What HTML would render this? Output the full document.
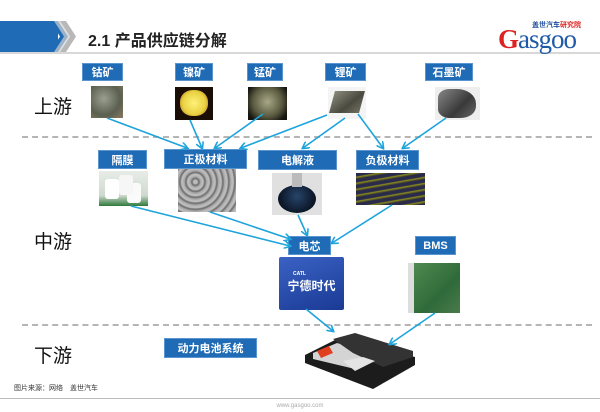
<!DOCTYPE html>
<html><head><meta charset="utf-8"><style>
body{margin:0;width:600px;height:412px;background:#fff;position:relative;overflow:hidden;font-family:"Liberation Sans","Noto Sans CJK SC",sans-serif}
.a{position:absolute}
.lb{position:absolute;background:#1f6bb5;color:#fff;font-size:11px;font-weight:bold;display:flex;align-items:center;justify-content:center;border:1px solid #5a95cf}
.st{position:absolute;font-size:19px;color:#111}
</style></head><body>
<!-- header -->
<div class="a" style="left:0;top:21px;width:58px;height:31px;background:#1f6bb5"></div>
<svg class="a" style="left:50px;top:21px" width="30" height="31"><polygon points="0,0 8,0 18,15.5 8,31 0,31 10,15.5" fill="#1f6bb5"/><polygon points="10,0 16,0 26,15.5 16,31 10,31 20,15.5" fill="#b8b8b8"/><polygon points="4,0 10,0 20,15.5 10,31 4,31 14,15.5" fill="#d0d0d0" opacity="0.7"/></svg>
<div class="a" style="left:88px;top:27px;font-size:16px;font-weight:bold;color:#222">2.1 产品供应链分解</div>
<div class="a" style="left:0;top:52px;width:600px;height:2px;background:#d8d8d8"></div>
<div class="a" style="left:532px;top:20px;font-size:7px;color:#1f4f9a;font-weight:bold">盖世汽车<span style="color:#d22">研究院</span></div>
<div class="a" style="left:498px;top:24px;font-family:'Liberation Serif',serif;font-size:27px;color:#1f5aa8;letter-spacing:-1px"><span style="color:#d22;font-weight:bold">G</span>asgoo</div>

<!-- stage labels -->
<div class="st" style="left:34px;top:92px">上游</div>
<div class="st" style="left:34px;top:227px">中游</div>
<div class="st" style="left:34px;top:341px">下游</div>

<!-- dashed lines -->
<div class="a" style="left:22px;top:136px;width:570px;border-top:2px dashed #b5b5b5"></div>
<div class="a" style="left:22px;top:324px;width:570px;border-top:2px dashed #b5b5b5"></div>

<!-- top labels -->
<div class="lb" style="left:82px;top:63px;width:39px;height:16px">钴矿</div>
<div class="lb" style="left:175px;top:63px;width:36px;height:16px">镍矿</div>
<div class="lb" style="left:247px;top:63px;width:34px;height:16px">锰矿</div>
<div class="lb" style="left:325px;top:63px;width:39px;height:16px">锂矿</div>
<div class="lb" style="left:425px;top:63px;width:46px;height:16px">石墨矿</div>

<!-- ore images -->
<div class="a" style="left:91px;top:86px;width:32px;height:32px;background:radial-gradient(circle at 40% 40%,#9a9f90,#5a5f50 60%,#8a7a60);"></div>
<div class="a" style="left:175px;top:87px;width:38px;height:33px;background:#1a0d05"><div class="a" style="left:5px;top:3px;width:28px;height:26px;border-radius:45%;background:radial-gradient(circle,#fff27a,#e8d040 60%,#a05020)"></div></div>
<div class="a" style="left:248px;top:87px;width:39px;height:33px;background:radial-gradient(circle at 50% 45%,#a8a888,#5a5a40 55%,#141410 85%)"></div>
<div class="a" style="left:328px;top:87px;width:38px;height:32px;background:#f4f4f4"><div class="a" style="left:4px;top:4px;width:30px;height:22px;background:linear-gradient(135deg,#8a8a7a,#4a4a40 60%,#707060);transform:skewX(-15deg)"></div></div>
<div class="a" style="left:435px;top:87px;width:45px;height:33px;background:#eee"><div class="a" style="left:3px;top:2px;width:38px;height:29px;border-radius:30% 50% 40% 30%;background:linear-gradient(135deg,#888,#3a3a3a 60%,#666)"></div></div>

<!-- mid labels -->
<div class="lb" style="left:98px;top:150px;width:47px;height:17px">隔膜</div>
<div class="lb" style="left:164px;top:149px;width:81px;height:18px">正极材料</div>
<div class="lb" style="left:258px;top:150px;width:77px;height:18px">电解液</div>
<div class="lb" style="left:356px;top:150px;width:61px;height:18px">负极材料</div>

<!-- mid images -->
<div class="a" style="left:99px;top:171px;width:49px;height:35px;background:linear-gradient(#e8ece8,#cfd9cf 70%,#2e7a3a)"><div class="a" style="left:6px;top:8px;width:14px;height:20px;background:#fff;border-radius:3px;box-shadow:14px -4px 0 #f6f6f6,22px 4px 0 #fafafa"></div></div>
<div class="a" style="left:178px;top:169px;width:58px;height:43px;background:repeating-radial-gradient(circle at 30% 30%,#bbb 0 2px,#777 3px 4px,#aaa 5px 6px)"></div>
<div class="a" style="left:272px;top:173px;width:50px;height:42px;background:#e0e0e0"><div class="a" style="left:6px;top:12px;width:38px;height:28px;border-radius:50%;background:radial-gradient(circle at 50% 40%,#27456a,#0b1526 70%)"></div><div class="a" style="left:20px;top:0;width:10px;height:14px;background:#bbb"></div></div>
<div class="a" style="left:356px;top:173px;width:69px;height:32px;background:repeating-linear-gradient(170deg,#2a2a4a 0 3px,#8a8a20 4px,#3a3a30 6px)"></div>

<div class="lb" style="left:288px;top:236px;width:41px;height:17px">电芯</div>
<div class="lb" style="left:415px;top:236px;width:39px;height:17px">BMS</div>

<!-- cell -->
<div class="a" style="left:279px;top:257px;width:65px;height:53px;background:linear-gradient(160deg,#3a62c4,#1a3a94);border-radius:2px;color:#fff;font-size:12px;font-weight:bold;text-align:center;padding-top:14px;box-sizing:border-box"><div style="font-size:5px;text-align:left;padding-left:14px">CATL</div>宁德时代</div>
<!-- bms -->
<div class="a" style="left:408px;top:263px;width:52px;height:50px;background:linear-gradient(135deg,#4f8a4f,#2f6a3a 60%,#4a7a4a);border-left:6px solid #ddd;box-sizing:border-box"></div>

<div class="lb" style="left:164px;top:338px;width:91px;height:18px">动力电池系统</div>
<!-- battery pack -->
<svg class="a" style="left:303px;top:331px" width="116" height="60">
<polygon points="2,24 34,8 112,26 112,34 70,58 2,32" fill="#1c1c1c"/>
<polygon points="10,22 34,12 76,24 52,38 10,28" fill="#d4d4d4"/>
<polygon points="14,20 26,15 30,22 18,27" fill="#e04020"/>
<polygon points="30,8 52,2 110,20 110,26 80,36 50,22" fill="#333"/>
<polygon points="40,30 60,26 72,30 52,40" fill="#e4e4e4"/>
</svg>

<!-- arrows -->
<svg class="a" style="left:0;top:0" width="600" height="412">
<defs><marker id="m" markerWidth="8" markerHeight="8" refX="6" refY="4" orient="auto" markerUnits="userSpaceOnUse"><path d="M0,0 L7,4 L0,8" fill="none" stroke="#1ea4dc" stroke-width="1.6"/></marker></defs>
<g stroke="#1ea4dc" stroke-width="1.6" fill="none" marker-end="url(#m)">
<line x1="107" y1="118" x2="187" y2="148"/>
<line x1="190" y1="120" x2="202" y2="148"/>
<line x1="263" y1="114" x2="215" y2="148"/>
<line x1="327" y1="115" x2="241" y2="148"/>
<line x1="345" y1="118" x2="303" y2="148"/>
<line x1="358" y1="114" x2="383" y2="148"/>
<line x1="446" y1="118" x2="403" y2="148"/>
<line x1="131" y1="206" x2="290" y2="246"/>
<line x1="210" y1="212" x2="290" y2="239"/>
<line x1="298" y1="215" x2="307" y2="235"/>
<line x1="392" y1="205" x2="332" y2="243"/>
<line x1="306" y1="309" x2="333" y2="331"/>
<line x1="435" y1="313" x2="390" y2="344"/>
</g></svg>

<div class="a" style="left:14px;top:383px;font-size:7px;color:#333">图片来源：网络　盖世汽车</div>
<div class="a" style="left:0;top:398px;width:600px;height:1px;background:#bbb"></div>
<div class="a" style="left:0;top:403px;width:600px;text-align:center;font-size:6px;color:#aaa">www.gasgoo.com</div>
</body></html>
